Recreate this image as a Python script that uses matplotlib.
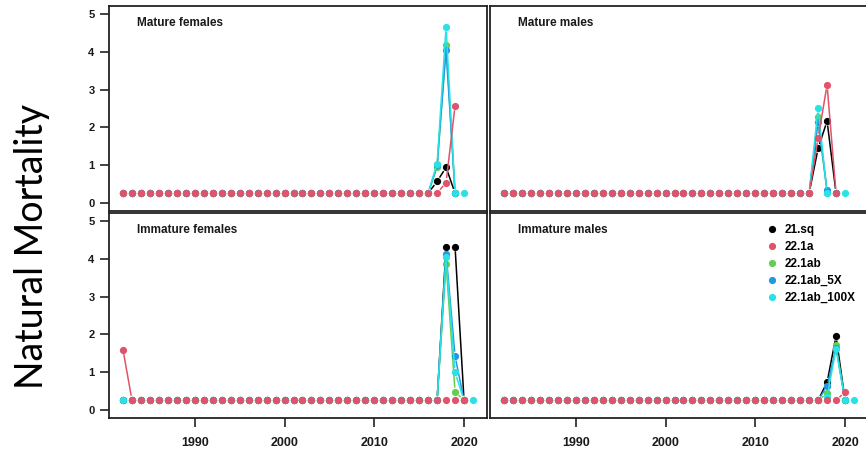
import matplotlib.pyplot as plt
import numpy as np
from matplotlib.lines import Line2D

nan = np.nan

MODELS = ["21.sq", "22.1a", "22.1ab", "22.1ab_5X", "22.1ab_100X"]
COLORS = {
    "21.sq": "#000000",
    "22.1a": "#DF536B",
    "22.1ab": "#61D04F",
    "22.1ab_5X": "#2297E6",
    "22.1ab_100X": "#28E2E5",
}
DRAW_ORDER = ["21.sq", "22.1ab", "22.1ab_5X", "22.1ab_100X", "22.1a"]

FIRST_YEAR = 1982
BASE_M = 0.27  # flat natural mortality before the recent spikes
TAIL_YEARS = [2016, 2017, 2018, 2019, 2020, 2021]

# 2016-2021 values per model (nan = no estimate that year)
MAT_FEM = {
    "21.sq":       [0.27, 0.58, 0.95, 0.27, nan, nan],
    "22.1a":       [0.27, 0.27, 0.55, 2.57, nan, nan],
    "22.1ab":      [0.27, 0.95, 4.18, 0.27, nan, nan],
    "22.1ab_5X":   [0.27, 1.00, 4.05, 0.27, nan, nan],
    "22.1ab_100X": [0.27, 1.05, 4.65, 0.27, 0.27, nan],
}
MAT_MALE = {
    "21.sq":       [0.27, 1.45, 2.17, 0.27, nan, nan],
    "22.1a":       [0.27, 1.72, 3.12, 0.27, nan, nan],
    "22.1ab":      [0.27, 2.28, 0.27, 0.27, nan, nan],
    "22.1ab_5X":   [0.27, 2.14, 0.36, 0.27, nan, nan],
    "22.1ab_100X": [0.27, 2.51, 0.27, 0.27, 0.27, nan],
}
IMM_FEM = {
    "21.sq":       [0.27, 0.27, 4.31, 4.31, 0.27, nan],
    "22.1a":       [0.27, 0.27, 0.27, 0.27, 0.27, nan],
    "22.1ab":      [0.27, 0.27, 3.86, 0.48, 0.27, nan],
    "22.1ab_5X":   [0.27, 0.27, 4.13, 1.43, 0.27, nan],
    "22.1ab_100X": [0.27, 0.27, 4.05, 1.00, 0.27, 0.27],
}
IMM_MALE = {
    "21.sq":       [0.27, 0.27, 0.74, 1.96, 0.27, nan],
    "22.1a":       [0.27, 0.27, 0.27, 0.27, 0.48, nan],
    "22.1ab":      [0.27, 0.27, 0.45, 1.72, 0.27, nan],
    "22.1ab_5X":   [0.27, 0.27, 0.63, 1.65, 0.27, nan],
    "22.1ab_100X": [0.27, 0.27, 0.36, 1.62, 0.27, 0.27],
}
IMM_FEM_RED_1982 = 1.6  # 22.1a starts high for immature females

PANELS = [
    ("Mature females", MAT_FEM),
    ("Mature males", MAT_MALE),
    ("Immature females", IMM_FEM),
    ("Immature males", IMM_MALE),
]

TXT = "#1a1a1a"
FONT = "Liberation Sans"


def series(panel, model):
    n_head = TAIL_YEARS[0] - FIRST_YEAR
    years = np.arange(FIRST_YEAR, TAIL_YEARS[-1] + 1)
    vals = np.array([BASE_M] * n_head + list(panel[model]), dtype=float)
    return years, vals


def gapped_line(ax, x, y, color, gap=4.5):
    """R type='b': line segments stop short of the points."""
    pts = ax.transData.transform(np.column_stack([x, y]))
    inv = ax.transData.inverted()
    for i in range(len(x) - 1):
        if np.isnan(y[i]) or np.isnan(y[i + 1]):
            continue
        p0, p1 = pts[i], pts[i + 1]
        d = p1 - p0
        L = np.hypot(*d)
        if L <= 2 * gap + 1:
            continue
        u = d / L
        a = inv.transform(p0 + u * gap)
        b = inv.transform(p1 - u * gap)
        ax.plot([a[0], b[0]], [a[1], b[1]], color=color, lw=1.1,
                solid_capstyle="butt")


fig = plt.figure(figsize=(8.66, 4.54), dpi=100)
W, H = 866, 454
lefts = [109, 490]
tops = [6, 213]
pw, ph = 378, 205

axes = []
for k, (title, panel) in enumerate(PANELS):
    r, c = divmod(k, 2)
    ax = fig.add_axes([lefts[c] / W, 1 - (tops[r] + ph) / H, pw / W, ph / H])
    ax.set_xlim(1980.44, 2022.56)
    ax.set_ylim(-0.2, 5.2)
    for s in ax.spines.values():
        s.set_linewidth(1.3)
        s.set_color("#222222")

    for m in DRAW_ORDER:
        x, y = series(panel, m)
        if panel is IMM_FEM and m == "22.1a":
            y[0] = IMM_FEM_RED_1982
        gapped_line(ax, x, y, COLORS[m])
        ax.plot(x, y, ls="none", marker="o", ms=5.2, mec="none",
                color=COLORS[m])

    ax.text(0.074, 0.917, title, transform=ax.transAxes, ha="left",
            va="center", fontsize=8.5, fontweight="bold", color=TXT,
            family=FONT)

    ax.set_xticks([1990, 2000, 2010, 2020])
    ax.set_yticks([0, 1, 2, 3, 4, 5])
    ax.tick_params(length=6.5, width=1.2, color="#222222", pad=7)
    if r == 0:
        ax.tick_params(axis="x", bottom=False, labelbottom=False)
    else:
        for lab in ax.get_xticklabels():
            lab.set_fontsize(9)
            lab.set_fontweight("bold")
            lab.set_color(TXT)
            lab.set_family(FONT)
    if c == 1:
        ax.tick_params(axis="y", left=False, labelleft=False)
    else:
        ax.tick_params(axis="y", pad=4)
        for lab in ax.get_yticklabels():
            lab.set_fontsize(8)
            lab.set_fontweight("bold")
            lab.set_color(TXT)
            lab.set_family(FONT)
    axes.append(ax)

handles = [Line2D([], [], ls="none", marker="o", ms=5.2, mec="none",
                  color=COLORS[m]) for m in MODELS]
axes[3].legend(handles, MODELS, loc="upper left",
               bbox_to_anchor=(0.737, 0.945), frameon=False,
               handlelength=0.6, handletextpad=0.8, labelspacing=0.42,
               borderpad=0, borderaxespad=0,
               prop=dict(weight="bold", size=8.5, family=FONT))

fig.text(32 / W, 1 - 246 / H, "Natural Mortality", rotation=90,
         ha="center", va="center", fontsize=27, color="black",
         family="Lato")

fig.savefig("out.png", dpi=100)
